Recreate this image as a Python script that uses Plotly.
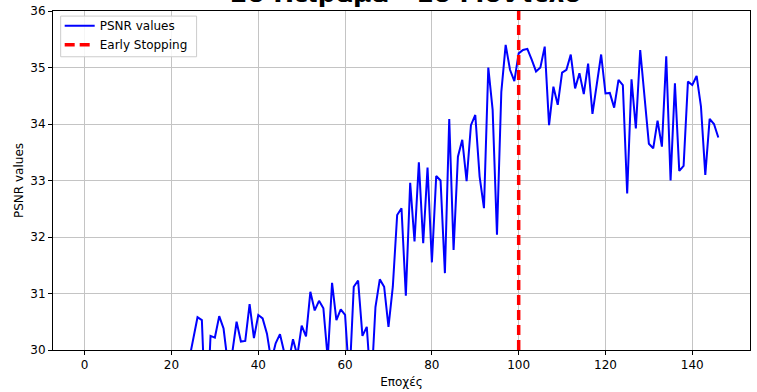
import plotly.graph_objects as go

# Training history: PSNR per epoch
epochs = list(range(147))
psnr_values = [
    21.8, 24.6, 25.9, 26.7, 27.2, 27.0, 27.8, 28.1, 27.6, 28.4,
    28.6, 28.2, 28.9, 28.7, 29.1, 28.8, 29.3, 29.0, 29.4, 29.2,
    29.5, 29.1, 29.6, 29.4, 29.8, 30.2, 30.58, 30.53, 28.6, 30.25,
    30.22, 30.60, 30.38, 29.75, 29.95, 30.50, 30.15, 30.16, 30.81, 30.21,
    30.62, 30.56, 30.29, 29.8, 30.12, 30.28, 29.95, 29.8, 30.19, 29.9,
    30.43, 30.24, 31.03, 30.70, 30.87, 30.74, 29.85, 31.19, 30.53, 30.72,
    30.62, 29.45, 31.12, 31.23, 30.25, 30.41, 29.3, 30.76, 31.25, 31.12,
    30.41, 31.12, 32.39, 32.51, 30.96, 32.96, 31.92, 33.32, 31.89, 33.23,
    31.55, 33.08, 33.00, 31.36, 34.09, 31.77, 33.42, 33.72, 32.99, 33.98,
    34.16, 33.07, 32.51, 35.00, 34.25, 32.04, 34.57, 35.40, 34.96, 34.76,
    35.25, 35.31, 35.33, 35.14, 34.93, 35.00, 35.37, 33.98, 34.66, 34.34,
    34.91, 34.96, 35.23, 34.63, 34.90, 34.53, 35.07, 34.18, 34.69, 35.23,
    34.54, 34.55, 34.29, 34.78, 34.69, 32.77, 34.79, 33.92, 35.31, 34.48,
    33.65, 33.57, 34.06, 33.60, 35.20, 33.00, 34.72, 33.17, 33.26, 34.75,
    34.69, 34.85, 34.31, 33.10, 34.09, 34.00, 33.76,
]
early_stop_epoch = 100

y_range = [30, 36]
x_ticks = [0, 20, 40, 60, 80, 100, 120, 140]
y_ticks = [30, 31, 32, 33, 34, 35, 36]

FONT = "DejaVu Sans"

fig = go.Figure()
fig.add_trace(go.Scatter(
    x=epochs, y=psnr_values, mode="lines", name="PSNR values",
    line=dict(color="#0000ff", width=2),
))
fig.add_trace(go.Scatter(
    x=[early_stop_epoch, early_stop_epoch], y=y_range, mode="lines",
    name="Early Stopping",
    line=dict(color="#ff0000", width=3.5, dash="10px,5px"),
))

axis_common = dict(
    showline=True, linecolor="black", linewidth=1, mirror=True,
    showgrid=True, gridcolor="#c4c4c4", gridwidth=1,
    ticks="outside", ticklen=4, tickcolor="black", tickwidth=1,
    tickfont=dict(family=FONT, size=12, color="black"),
    zeroline=False, automargin=False,
)

fig.update_layout(
    width=757, height=392,
    margin=dict(l=53, r=7, t=11, b=42),
    paper_bgcolor="white", plot_bgcolor="white",
    font=dict(family=FONT, size=12, color="black"),
    xaxis=dict(
        range=[-7.3, 153.3], tickvals=x_ticks,
        title=dict(text="Εποχές", font=dict(family=FONT, size=12), standoff=6),
        **axis_common,
    ),
    yaxis=dict(
        range=y_range, tickvals=y_ticks,
        title=dict(text="PSNR values", font=dict(family=FONT, size=12), standoff=4),
        **axis_common,
    ),
    legend=dict(
        x=0.0096, y=0.9994, xanchor="left", yanchor="top",
        bgcolor="rgba(0,0,0,0)", borderwidth=0,
        font=dict(family=FONT, size=12, color="black"),
        itemwidth=30, tracegroupgap=0,
    ),
    showlegend=True,
    # legend frame
    shapes=[dict(
        type="rect", xref="paper", yref="paper",
        x0=0.011, x1=0.206, y0=0.865, y1=0.985,
        line=dict(color="#cccccc", width=1),
        fillcolor="rgba(255,255,255,0.85)", layer="above",
    )],
    # chart title, sitting at the very top edge of the page
    annotations=[dict(
        text="<b>2ο Πείραμα - 1ο Μοντέλο</b>",
        xref="paper", yref="paper", x=0.506, y=1.0,
        xanchor="center", yanchor="middle", yshift=18,
        showarrow=False,
        font=dict(family=FONT, size=25, color="black"),
    )],
)

fig.write_html("out.html")
